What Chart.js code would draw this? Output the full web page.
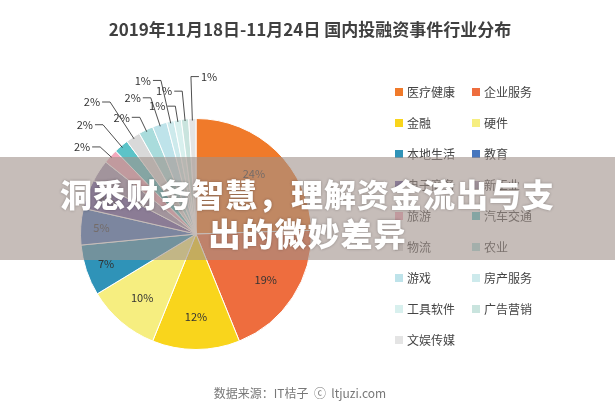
<!DOCTYPE html>
<html>
<head>
<meta charset="utf-8">
<script src="https://cdn.jsdelivr.net/npm/chart.js@4"></script>
<style>
  body { margin: 0; background: #fff; font-family: "Noto Sans CJK SC", sans-serif; }
  #wrap { position: relative; width: 615px; height: 418px; }
  #banner {
    position: absolute; left: 0; top: 157px; width: 615px; height: 103px;
    background: rgba(160, 145, 138, 0.6);
    color: #fff; font-weight: 900; font-size: 32px; line-height: 39px;
    text-align: center; padding-top: 17px; box-sizing: border-box;
    text-shadow: 0 0 3px rgba(0,0,0,0.3); letter-spacing: 1px;
  }
</style>
</head>
<body>
<div id="wrap">
  <canvas id="pie" width="615" height="418"></canvas>
  <div id="banner">洞悉财务智慧，理解资金流出与支<br>出的微妙差异</div>
</div>
<script>
const titulo = "2019年11月18日-11月24日 国内投融资事件行业分布";
const fuente = "数据来源：IT桔子  ⓒ  ltjuzi.com";
const industrias = ["医疗健康", "企业服务", "金融", "硬件", "本地生活", "教育", "电子商务", "新工业",
  "旅游", "汽车交通", "物流", "农业", "游戏", "房产服务", "工具软件", "广告营销", "文娱传媒"];
const porcentajes = [24, 19, 12, 10, 7, 5, 4, 3, 2, 2, 2, 2, 2, 1, 1, 1, 1];
const colores = ["#F07A2A", "#EE6D3E", "#F9D51C", "#F6EE80", "#2F93B8", "#4676BE", "#6C5DA6", "#A598B6",
  "#F2A9BC", "#5CC3C8", "#D9D9D9", "#A9DCDC", "#BEE3EA", "#CDEAEC", "#D8F0EE", "#C9E4DE", "#E4E4E4"];

// textos: titulo, leyenda, etiquetas y fuente
const textos = {
  id: "textos",
  afterDraw(chart) {
    const c = chart.ctx;
    c.save();
    c.textBaseline = "middle";
    c.fillStyle = "#404040";
    c.font = "bold 17px 'Noto Sans CJK SC'";
    c.textAlign = "center";
    c.fillText(titulo, 310, 30);
    c.font = "12px 'Noto Sans CJK SC'";
    c.fillStyle = "#777";
    c.fillText(fuente, 300, 393);

    // leyenda en dos columnas
    c.textAlign = "left";
    industrias.forEach((n, i) => {
      const x = i % 2 === 0 ? 395 : 472;
      const y = 92 + Math.floor(i / 2) * 31;
      c.fillStyle = colores[i];
      c.fillRect(x, y - 4, 8, 8);
      c.fillStyle = "#444";
      c.fillText(n, x + 12, y);
    });

    // etiquetas de porcentaje
    const arcs = chart.getDatasetMeta(0).data;
    let k = 0;
    arcs.forEach((a, i) => {
      const v = porcentajes[i];
      const mid = (a.startAngle + a.endAngle) / 2;
      c.fillStyle = "#333";
      c.font = "11px 'Noto Sans CJK SC'";
      if (v >= 4) {
        const rr = a.outerRadius * (v >= 10 ? 0.72 : 0.82);
        c.textAlign = "center";
        c.fillText(v + "%", a.x + Math.cos(mid) * rr, a.y + Math.sin(mid) * rr);
      } else if (v === 3) {
        return;
      } else {
        const r1 = a.outerRadius - 2;
        const r2 = a.outerRadius + 14 + (k % 3) * 14;
        k++;
        const x1 = a.x + Math.cos(mid) * r1, y1 = a.y + Math.sin(mid) * r1;
        const x2 = a.x + Math.cos(mid) * r2, y2 = a.y + Math.sin(mid) * r2;
        const dir = Math.cos(mid) < -0.05 ? -1 : 1;
        c.strokeStyle = "#222";
        c.lineWidth = 0.8;
        c.beginPath();
        c.moveTo(x1, y1); c.lineTo(x2, y2); c.lineTo(x2 + dir * 8, y2);
        c.stroke();
        c.textAlign = dir < 0 ? "right" : "left";
        c.fillText(v + "%", x2 + dir * 10, y2);
      }
    });
    c.restore();
  }
};

new Chart(document.getElementById("pie"), {
  type: "pie",
  data: {
    labels: industrias,
    datasets: [{
      data: porcentajes,
      backgroundColor: colores,
      borderColor: "#fff",
      borderWidth: 1
    }]
  },
  options: {
    responsive: false,
    animation: false,
    layout: { padding: { left: 80, right: 303, top: 118, bottom: 68 } },
    plugins: { legend: { display: false }, tooltip: { enabled: false } }
  },
  plugins: [textos]
});
</script>
</body>
</html>
